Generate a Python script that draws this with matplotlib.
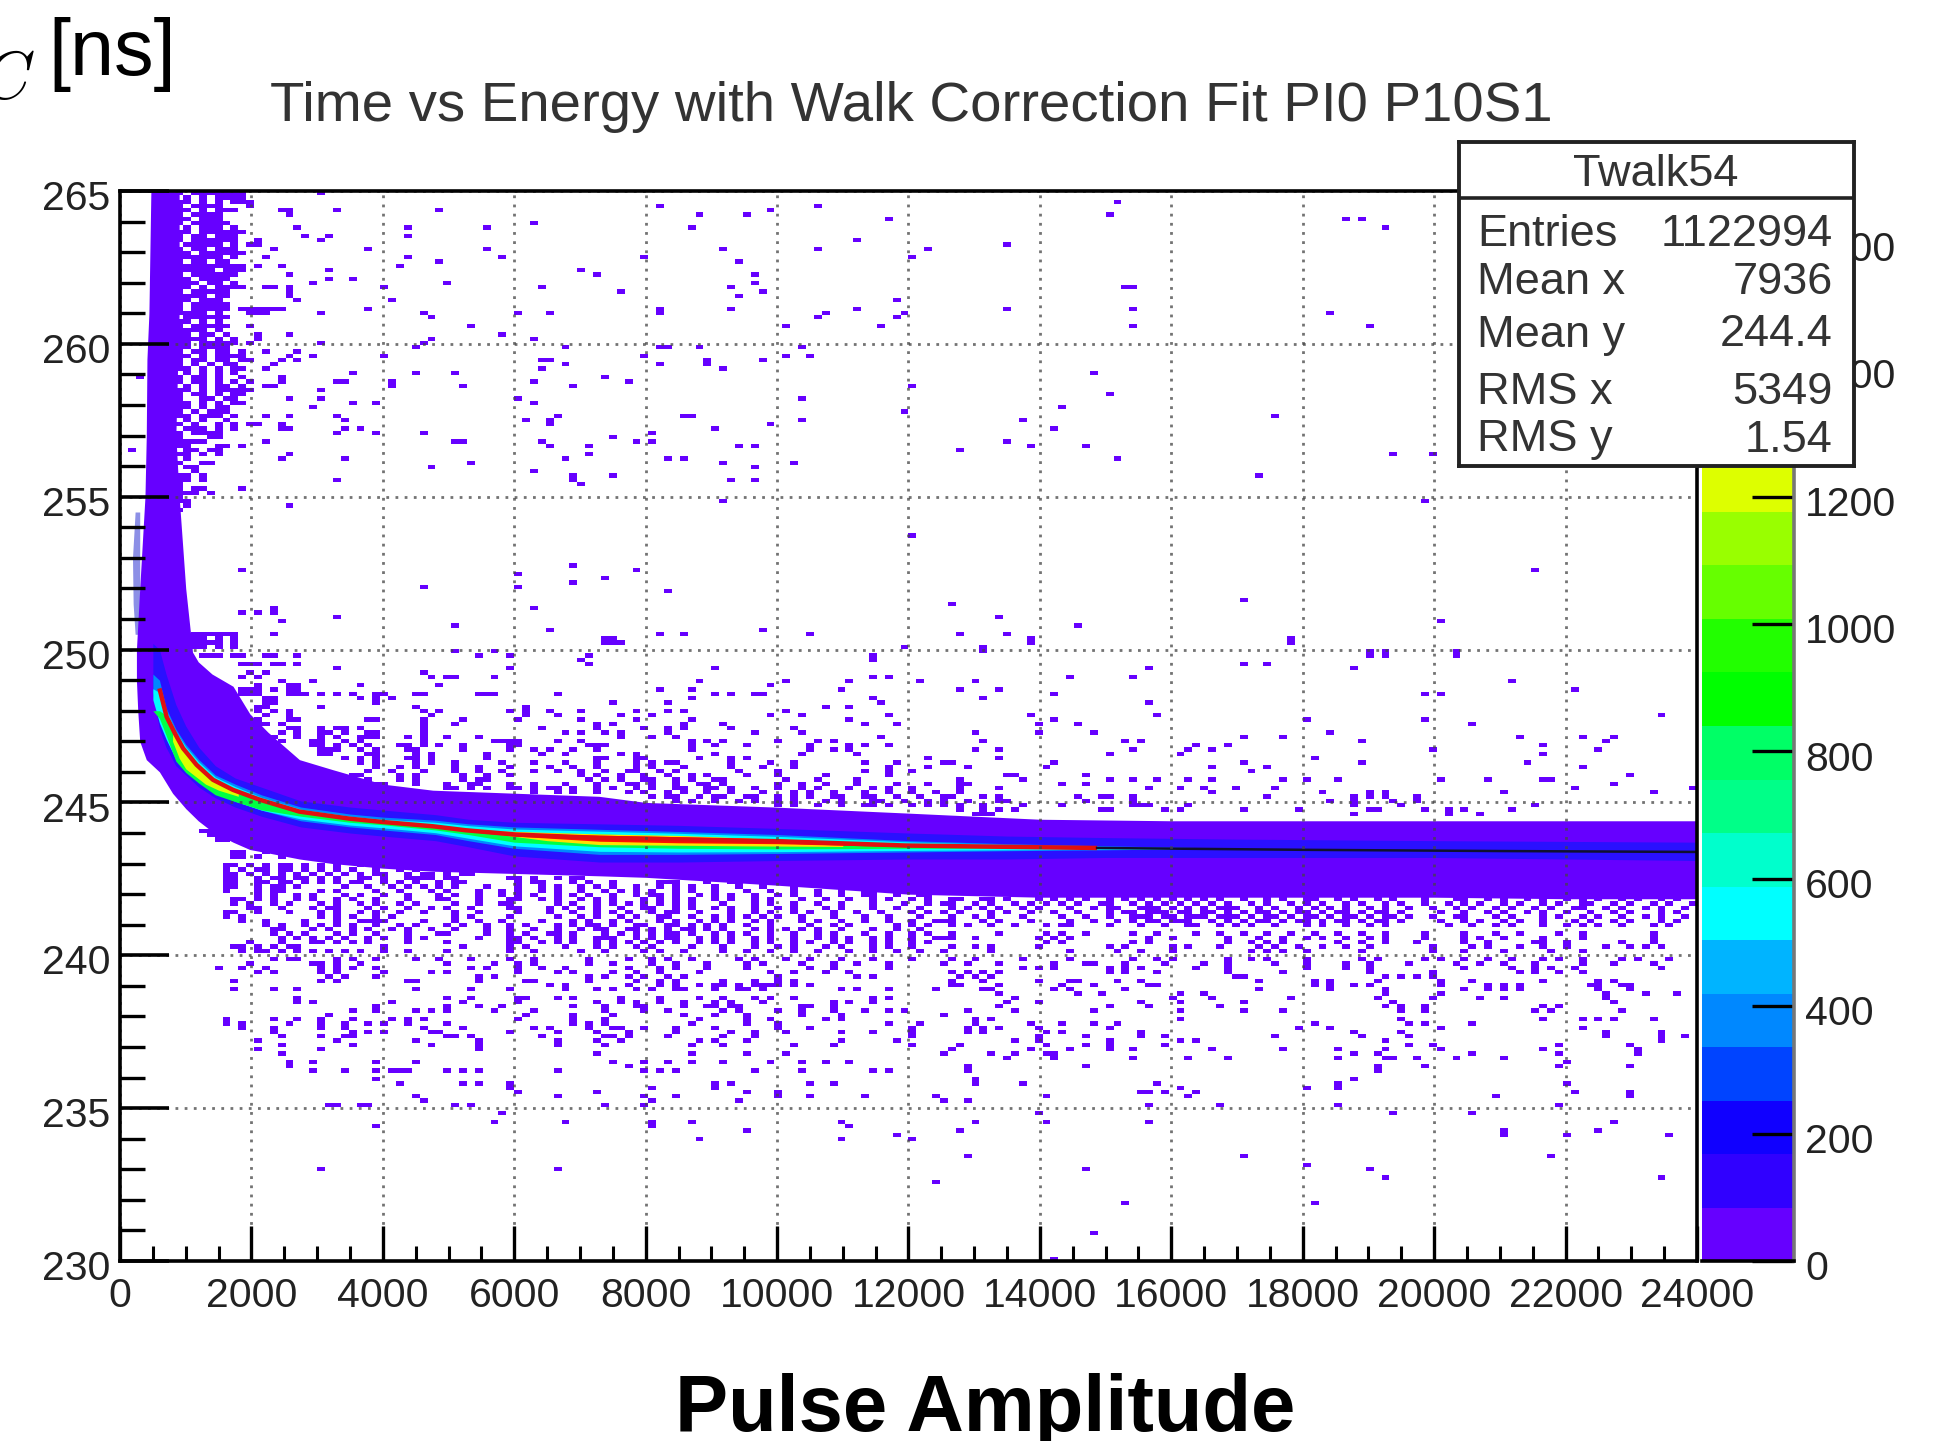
import numpy as np
import matplotlib
matplotlib.use("Agg")
import matplotlib.pyplot as plt
from matplotlib.colors import ListedColormap
from matplotlib.transforms import ScaledTranslation

W, H = 1937, 1441
plt.rcParams["font.family"] = ["Liberation Sans", "DejaVu Sans"]

# palette of the colour scale, bottom to top
palette = ["#6600ff", "#3000ff", "#1000ff", "#0044ff", "#0088ff", "#00b4ff", "#00ffff",
           "#00ffcc", "#00ff88", "#00ff66", "#00ff00", "#22ff00", "#66ff00", "#99ff00",
           "#ddff00", "#ffee00", "#ffbb00", "#ff8800", "#ff4400", "#ff0000"]
z_max = 1680

x_ticks = list(range(0, 24001, 2000))
y_ticks = [230, 235, 240, 245, 250, 255, 260, 265]
z_ticks = [0, 200, 400, 600, 800, 1000, 1200, 1400, 1600]

stat_names = ["Entries", "Mean x", "Mean y", "RMS x", "RMS y"]
stat_values = ["1122994", "7936", "244.4", "5349", "1.54"]

# solid purple body
body_x = [1000, 1190, 1400, 1720, 1975, 2250, 2730, 3240, 4000, 4760, 7290, 8000, 9950, 12000, 14000, 16000, 18000, 20000, 22000, 24000]
body_high = [250.3, 249.6, 249.2, 248.8, 247.9, 247.3, 246.4, 246.07, 245.6, 245.4, 245.2, 245.0, 244.85, 244.65, 244.45, 244.4, 244.4, 244.4, 244.4, 244.4]
body_low = [244.8, 244.4, 244.05, 243.7, 243.46, 243.35, 243.15, 243.0, 242.85, 242.75, 242.6, 242.55, 242.3, 242.0, 241.9, 241.9, 241.9, 241.9, 241.85, 241.85]

# near vertical column at small amplitude
col_y = [244.8, 245.3, 246.0, 246.4, 247.0, 248.0, 249.0, 250.0, 252.0, 255.0, 257.0, 259.5, 261.0, 265.0]
col_left = [1000, 800, 600, 400, 300, 270, 250, 250, 300, 380, 400, 410, 440, 470]
col_right = [1100, 1100, 1100, 1100, 1100, 1100, 1100, 1100, 1000, 900, 850, 880, 900, 900]
pale_y = [250.5, 251.5, 253.0, 254.5]
pale_left = [230, 200, 190, 230]
pale_right = [300, 300, 300, 300]

# coloured core of the band
core_x = [500, 600, 700, 850, 1000, 1200, 1450, 1750, 2150, 2750, 3500, 4000, 4800, 5300, 6000, 7300, 8500, 10000, 12000, 13500, 15000, 17000, 20000, 24000]
blue_top = [250.2, 250.0, 249.2, 248.2, 247.5, 246.8, 246.2, 245.8, 245.5, 245.05, 244.85, 244.75, 244.6, 244.45, 244.35, 244.3, 244.25, 244.15, 244.0, 243.9, 243.85, 243.8, 243.75, 243.7]
blue_bot = [248.5, 247.4, 246.8, 246.2, 245.9, 245.5, 245.15, 244.85, 244.55, 244.2, 244.0, 243.9, 243.75, 243.55, 243.25, 243.05, 243.05, 243.1, 243.15, 243.15, 243.2, 243.2, 243.2, 243.1]
light_top = [249.2, 249.0, 248.1, 247.4, 246.9, 246.4, 245.9, 245.6, 245.25, 244.85, 244.62, 244.52, 244.42, 244.3, 244.2, 244.12, 244.05, 243.95, 243.75, 243.65, 243.58, 243.5, 243.42, 243.38]
light_bot = [248.6, 247.8, 247.2, 246.5, 246.15, 245.75, 245.35, 245.05, 244.75, 244.4, 244.2, 244.1, 243.95, 243.75, 243.5, 243.3, 243.3, 243.33, 243.38, 243.42, 243.45, 243.5, 243.42, 243.38]
cyan_top = [248.72, 248.6, 248.02, 247.32, 246.82, 246.32, 245.83, 245.52, 245.17, 244.78, 244.55, 244.45, 244.35, 244.24, 244.13, 244.06, 243.99, 243.89, 243.71, 243.62, 243.55, 243.48, 243.42, 243.38]
cyan_bot = [248.36, 247.6, 247.08, 246.41, 246.07, 245.7, 245.31, 245.04, 244.75, 244.46, 244.26, 244.17, 244.01, 243.83, 243.58, 243.4, 243.38, 243.39, 243.43, 243.45, 243.47, 243.48, 243.42, 243.38]
green_top = [248.0, 248.0, 247.85, 247.2, 246.7, 246.2, 245.72, 245.4, 245.05, 244.68, 244.45, 244.35, 244.25, 244.15, 244.03, 243.97, 243.9, 243.8, 243.65, 243.57, 243.5, 243.45, 243.42, 243.38]
green_bot = [248.0, 247.75, 247.2, 246.35, 245.98, 245.63, 245.25, 245.03, 244.76, 244.55, 244.35, 244.27, 244.1, 243.95, 243.7, 243.55, 243.5, 243.48, 243.5, 243.5, 243.5, 243.45, 243.42, 243.38]

yellow_x = [800, 900, 1000, 1150, 1300, 1500, 1800]
yellow_top = [247.3, 247.0, 246.6, 246.3, 246.0, 245.65, 245.35]
yellow_bot = [247.0, 246.45, 246.1, 245.85, 245.6, 245.4, 245.2]
yellow2_x = [5600, 6500, 7300, 8500, 9500, 11000]
yellow2_top = [244.08, 244.02, 243.97, 243.92, 243.84, 243.68]
yellow2_bot = [244.0, 243.75, 243.62, 243.6, 243.58, 243.56]

red_x = [5300, 6000, 7300, 8500, 10000, 11000, 12000]
red_top = [244.13, 243.99, 243.93, 243.88, 243.8, 243.72, 243.63]
red_bot = [244.05, 243.9, 243.73, 243.68, 243.65, 243.6, 243.55]

fit_x = [600, 710, 835, 960, 1165, 1415, 1720, 2125, 2730, 3490, 4000, 4760, 5260, 6020, 7290, 10045, 11960, 14870]
fit_y = [248.73, 247.8, 247.26, 246.77, 246.23, 245.74, 245.41, 245.09, 244.7, 244.47, 244.36, 244.22, 244.09, 243.95, 243.84, 243.73, 243.59, 243.51]
fit_tail_x = [14870, 18000, 21000, 24000]
fit_tail_y = [243.51, 243.45, 243.41, 243.38]

# single filled cells: amplitude positions per row of time
top_left_rows = [
    (264.86, [850, 950, 1100, 1250, 1400, 1500, 1620, 1750, 1850]), (264.72, [1000, 1300, 1450, 1600, 1700, 1800, 1900]),
    (264.58, [860, 1050, 1300, 1500, 1700, 1850, 1950]), (264.44, [880, 950, 1150, 1250, 1350, 1500, 1950]),
    (264.3, [850, 1000, 1200, 1300, 1450, 1600, 1700]), (264.16, [900, 1100, 1300, 1400, 1500]),
    (264.02, [850, 900, 1000, 1200, 1300, 1350, 1550]), (263.88, [900, 1100, 1200, 1350, 1450, 1600]),
    (263.74, [1000, 1200, 1400, 1550, 1700]), (263.6, [850, 1000, 1200, 1350, 1500, 1650, 1750, 1850]),
    (263.46, [900, 1100, 1300, 1450, 1550, 1600, 1700]), (263.32, [850, 950, 1150, 1300, 1400, 1500, 1600, 1700]),
    (263.18, [1000, 1100, 1250, 1400, 1550, 1700]), (263.04, [900, 1100, 1300, 1450, 1600, 1750]),
    (262.9, [900, 1050, 1200, 1350, 1500, 1600, 1700, 1800, 1900]), (262.76, [850, 1000, 1100, 1300, 1400, 1550, 1700, 1750]),
    (262.62, [850, 950, 1100, 1250, 1450, 1600]), (262.48, [900, 1000, 1150, 1300, 1400, 1500, 1550, 1650, 1700, 1800]),
    (262.34, [850, 1000, 1150, 1250, 1400, 1600, 1750, 1900]), (262.2, [900, 1100, 1200, 1400, 1500, 1600, 1700]),
    (262.06, [850, 1000, 1250, 1350, 1450, 1600]), (261.92, [900, 1000, 1100, 1350, 1500, 1700]),
    (261.78, [850, 1000, 1200, 1300, 1500, 1600, 1700]), (261.64, [950, 1100, 1200, 1400, 1550, 1650]),
    (261.5, [850, 1050, 1150, 1300, 1450, 1550, 1650]), (261.36, [900, 1000, 1200, 1350, 1450, 1550]),
    (261.22, [850, 950, 1100, 1250, 1400, 1500, 1600]), (261.08, [800, 900, 1100, 1250, 1350, 1500, 1650]),
    (260.94, [850, 1000, 1150, 1300, 1450, 1550]), (260.8, [800, 1000, 1100, 1200, 1300, 1400, 1500, 1600]),
    (260.66, [900, 1000, 1200, 1300, 1500]), (260.52, [950, 1100, 1200, 1350, 1550, 1650]),
    (260.38, [850, 950, 1050, 1150, 1300, 1450, 1550]), (260.24, [800, 900, 1050, 1200, 1400, 1600]),
    (260.1, [850, 1000, 1150, 1300, 1450, 1550, 1700]), (259.96, [900, 1050, 1250, 1400, 1500, 1600, 1700]),
    (259.82, [850, 1000, 1200, 1350, 1500, 1600]), (259.68, [800, 950, 1100, 1300, 1500, 1650, 1800]),
    (259.54, [850, 1000, 1200, 1450, 1600, 1750]), (259.4, [900, 1100, 1300, 1500, 1650, 1800]),
    (259.26, [800, 950, 1150, 1400, 1650, 1750]), (259.12, [850, 1000, 1250, 1450, 1700, 1900]),
    (258.98, [800, 1000, 1200, 1500, 1750]), (258.84, [260, 850, 1100, 1300, 1550]),
    (258.7, [950, 1150, 1300, 1450, 1700]), (258.56, [800, 1000, 1250, 1500, 1650, 1800]),
    (258.42, [850, 1050, 1300, 1450, 1600, 1750, 1900]), (258.28, [900, 1100, 1300, 1550, 1700, 1800]),
    (258.14, [800, 950, 1250, 1400, 1600, 1750]), (258.0, [850, 1050, 1200, 1500, 1700]),
    (257.86, [900, 1000, 1200, 1300, 1450, 1650]), (257.72, [800, 950, 1150, 1400, 1500, 1600]),
    (257.58, [850, 1050, 1200, 1350, 1550, 1750]), (257.44, [800, 1000, 1250, 1600]),
    (257.3, [850, 950, 1100, 1450, 1700]), (257.16, [800, 1000, 1150, 1300, 1500, 1750]),
    (257.02, [850, 1100, 1250, 1400, 1550]), (256.88, [800, 950, 1350, 1500]),
    (256.74, [850, 1000, 1150, 1300]), (256.6, [800, 900, 1050, 1500, 1650]),
    (256.46, [178, 800, 1000, 1150, 1350, 1550]), (256.32, [850, 950, 1050, 1300, 1500]),
    (256.18, [1000]), (256.04, [850, 950, 1200, 1350]), (255.9, [1000, 1150]), (255.76, [800, 1100]),
    (255.62, [850, 1000, 1250]), (255.48, [900, 1000, 1200]), (255.34, [850, 950]), (255.2, [800, 900, 1100, 1300]),
    (255.06, [850, 1000, 1150, 1400]), (254.92, [800, 950]), (254.78, [850, 1050]), (254.64, [1000]), (254.5, [900]),
    (250.42, [1180, 1250, 1400, 1500, 1650, 1720]), (250.28, [1100, 1200, 1300, 1500, 1700, 1750]),
    (250.14, [1000, 1100, 1300, 1400, 1550, 1700, 1750]), (250.0, [1000, 1150, 1300, 1500, 1700]),
    (249.72, [1200, 1350, 1480, 1750, 1900, 2250, 2350, 2700]),
    (244.0, [1230, 1350, 1800]), (243.85, [1400, 1500]), (243.7, [1500, 1650]),
    (243.3, [1750, 1900, 2200, 2400, 3300]), (243.1, [1700, 1850, 2150, 2400, 3300, 3450]),
]

upper_rows = [
    (264.9, [3050]), (264.6, [15210]), (264.46, [1975, 8195, 10600]), (264.3, [2470, 2580, 3310, 4845, 9900, 9950]),
    (264.15, [2580, 8800, 9535, 15080]), (264.0, [11740, 18700, 18900]), (263.88, [6320]), (263.74, [2710, 4380, 5585, 8735, 19300]),
    (263.6, [1870]), (263.45, [2840, 3180, 4380]), (263.3, [2105, 3035, 11200]), (263.16, [1975, 2105, 13480]),
    (263.0, [2305, 3775, 5585, 9190, 10600, 12270]), (262.73, [2235, 4380, 5850, 8000, 12060]), (262.58, [4845, 9390]),
    (262.43, [1870, 2105, 2435, 4240]), (262.29, [3180, 6990]), (262.15, [2580, 7260, 9665]), (262.0, [3180, 3505]),
    (261.87, [2910, 4980, 9665]), (261.73, [1870, 2235, 2315, 2580, 4050, 6385, 9325, 15280, 15410]), (261.59, [2580, 7590, 9800]),
    (261.43, [2580, 9390]), (261.3, [2710, 4110, 11800]), (261.15, [1870, 1975, 2080, 2185, 2290, 2395, 2470, 3775, 8195, 9325, 11200, 13480, 15410]),
    (261.0, [1975, 2080, 2185, 2260, 3035, 4650, 6525, 8195]), (260.87, [6040, 10730, 11930, 18430]), (260.73, [4715, 10600, 11800]),
    (260.59, [5320, 10130, 11600]), (260.45, [1975, 15410, 19030]), (260.3, [2105, 2580, 5850]), (260.15, [2080, 4715, 6320]),
    (260.0, [2000, 3035, 4650]), (259.86, [4520, 6790, 8195, 8325, 8800, 10400]), (259.72, [1870, 2235, 2710]),
    (259.58, [1870, 2580, 2910, 4050, 8000, 10130, 10525]), (259.43, [1975, 2435, 2710, 6385, 6520, 8930, 9800]),
    (259.3, [2315, 6790, 8195, 8930]), (259.15, [2235, 6385, 9190]), (259.0, [3505, 4520, 5115, 14800]), (258.86, [1870, 2435, 7390]),
    (258.72, [1975, 2435, 3310, 3415, 4110, 6320, 7720]), (258.58, [2235, 2315, 4110, 5255, 6920, 12060]), (258.43, [1975, 3035]),
    (258.28, [15080]), (258.14, [2580, 3035, 6040, 10400]), (258.0, [1870, 3505, 3915, 6320]), (257.86, [2910, 14340]), (257.7, [11930]),
    (257.57, [2235, 2580, 3310, 6645, 8590, 8720, 17620]), (257.42, [3445, 6185, 6515, 10400, 13740]), (257.28, [1975, 2105, 2435, 6515, 9930, 9950]),
    (257.14, [2435, 2580, 3445, 3640, 9060, 14210]), (257.0, [3310, 3915, 4650, 8130]), (256.86, [7525]),
    (256.72, [2235, 5115, 5230, 6385, 7855, 8130, 13480]), (256.58, [1870, 6525, 7120, 9390, 9665, 13870, 14680]), (256.43, [12800]),
    (256.3, [2580, 7120, 19360, 19960]), (256.15, [2435, 3445, 6790, 8325, 8590, 15210]), (256.0, [5320, 9190, 10250]), (255.86, [4715, 9665]),
    (255.7, [6320]), (255.57, [6920, 7525, 17360]), (255.42, [3310, 6920, 9325, 9665]), (255.28, [6990]), (255.15, [1870]),
    (254.72, [9190, 19900]), (254.57, [2580]), (253.7, [12060]), (252.7, [6920]), (252.55, [1870, 7855, 21570]), (252.4, [6040]),
    (252.27, [7390]), (252.13, [6920]), (252.0, [4650, 6040]), (251.85, [8325]), (251.55, [17090]), (251.4, [12670]),
    (251.27, [2315, 6320]), (251.13, [1870, 2105, 2315]), (251.0, [3310, 13400]), (250.85, [2435, 20090]), (250.7, [5115, 14600]),
    (250.57, [6525, 9800]), (250.4, [2305, 8195, 8590, 10525, 12800, 13480]), (250.28, [7390, 7525, 13870, 17830]),
    (250.0, [11950, 13130]), (249.86, [5150, 5650, 19030, 19300, 20360]), (249.75, [7100, 11450]),
]

above_band_rows = [
    (250.2, [7330, 7450, 7560, 13870, 17800]), (249.93, [13100]), (249.8, [5450, 5900, 18990, 19280, 20330]), (249.66, [7000, 11450]),
    (249.5, [1900, 2000, 2100, 2300, 2450, 2700, 7130, 17070, 17470]), (249.37, [3300, 5900, 9040, 15660, 18720]), (249.23, [2030, 2250, 4650]),
    (249.08, [1900, 2050, 2100, 4700, 5000, 5100, 5700, 11450, 11700, 14470, 15400]), (248.93, [2450, 2900, 8800, 10100, 11100, 12200, 13000, 21130]),
    (248.8, [2100, 2600, 2700, 3650, 4870, 9930]), (248.64, [1850, 2000, 2150, 2350, 2600, 2700, 8170, 8700, 11000, 12820, 13390, 22130]),
    (248.5, [1900, 2000, 2150, 2550, 2700, 2850, 3100, 3250, 3500, 3900, 4050, 4450, 4600, 5400, 5550, 5700, 6650, 9050, 9300, 9650, 9800, 14190, 19850, 20070]),
    (248.36, [2200, 2300, 3600, 3950, 4100, 8700, 11450, 13120]), (248.2, [2250, 2300, 3900, 7500, 8300, 11600, 15660]), (248.08, [2100, 2250, 3050, 4500, 6150, 10700, 11150]),
    (247.93, [2150, 2300, 2550, 4650, 4850, 5900, 6150, 6500, 7000, 7850, 8300, 8550, 10100]),
    (247.8, [2250, 2550, 4700, 6150, 6650, 7600, 8100, 9950, 10400, 11700, 13870, 15800, 23480]),
    (247.65, [2100, 2550, 2700, 3750, 3900, 4650, 5200, 6050, 7000, 7850, 8700, 11100, 14190, 18070, 19870]),
    (247.5, [2050, 2250, 2400, 4600, 5100, 7250, 7550, 8600, 9200, 11300, 11800, 14000, 14600, 20530]),
    (247.37, [2600, 2750, 3050, 3250, 3450, 3650, 4650, 6400, 7250, 8000, 8350, 8600, 9350, 10250]),
    (247.23, [2450, 2700, 3000, 3200, 3450, 3750, 3900, 4650, 6800, 7000, 7350, 7600, 8350, 9650, 10400, 13000, 14000, 14790, 18400]),
    (247.09, [2350, 2700, 3000, 3300, 3650, 3800, 3900, 4350, 4650, 4950, 5450, 7600, 8100, 8450, 11600, 17070, 17680, 21270, 22270, 22730]),
    (246.95, [2400, 2900, 3100, 3450, 3700, 4650, 5650, 5800, 5900, 6050, 6650, 7000, 8700, 8900, 9200, 10000, 10650, 10850, 13120, 15270, 15530, 18870, 22620]),
    (246.8, [2900, 3050, 3300, 3550, 3800, 4250, 4400, 4650, 4800, 5250, 5900, 6050, 7100, 7250, 7400, 8700, 9050, 9500, 10550, 11100, 11300, 11750, 16400, 16870, 21680]),
    (246.66, [3000, 3150, 3350, 3600, 3900, 4400, 4550, 5250, 5900, 6300, 6500, 6900, 7200, 7300, 8750, 10500, 10900, 11100, 13000, 13390, 15400, 16260, 16580, 19920, 22470]),
    (246.52, [3000, 3200, 3800, 3900, 4550, 4750, 5600, 6400, 6800, 7600, 7850, 9100, 10400, 11200, 15060, 16140, 21680]),
    (246.38, [3400, 3600, 3900, 4400, 4500, 4750, 5600, 7300, 7400, 7900, 8000, 8800, 9300, 9500, 12350, 13390, 18200]),
    (246.24, [3700, 3900, 4450, 4700, 5100, 5800, 6300, 6800, 7200, 7900, 8100, 8300, 8500, 9300, 9900, 10300, 11300, 11800, 12500, 12700, 14190, 17070, 18870, 21420]),
    (246.1, [3900, 4300, 4500, 5050, 5500, 5900, 6500, 6850, 7200, 7800, 8150, 8550, 9250, 9800, 10200, 11650, 12250, 12880, 14060, 16600, 17470, 22270]),
    (245.95, [3800, 4100, 4650, 5100, 5400, 5800, 6350, 6600, 7000, 7400, 7700, 7900, 8200, 8450, 9400, 10000, 11300, 11700, 12100, 17200]),
    (245.8, [3500, 3700, 4200, 4500, 5200, 5600, 5900, 7000, 7300, 7600, 8000, 8350, 8650, 8900, 9500, 10050, 10700, 11700, 13460, 13600, 14660, 22940]),
    (245.65, [3800, 4300, 4550, 5200, 5450, 5600, 7100, 7400, 7600, 7950, 8150, 8500, 8700, 9000, 9200, 10100, 10600, 11250, 12820, 13730, 15080, 15400, 15800, 16260, 16600, 17680, 18070, 18520, 20070, 20810, 21680, 21750]),
    (245.5, [3900, 4000, 4500, 5000, 5300, 5500, 5900, 6300, 6800, 7300, 7700, 7900, 8100, 8500, 8800, 8950, 9150, 10000, 10400, 10750, 11200, 11800, 12250, 12820, 12900, 14330, 14660, 22740]),
    (245.35, [4950, 5100, 5300, 5550, 5900, 6100, 6250, 6500, 6600, 6900, 7250, 7450, 7800, 8100, 8400, 8600, 8900, 9100, 9300, 9600, 10000, 10400, 10600, 11050, 11400, 11700, 12000, 12820, 13390, 15660, 16140, 16460, 17000, 17600, 22130, 23940]),
    (245.22, [6300, 6600, 6900, 7250, 7700, 8000, 8300, 8600, 8900, 9300, 9800, 10200, 10500, 10900, 11300, 11700, 12000, 12400, 12820, 16600, 18270, 18990, 19280, 21070, 23330]),
    (245.07, [8100, 8300, 8500, 8800, 9000, 9200, 9500, 9700, 10000, 10300, 10500, 10800, 11000, 11300, 11500, 11800, 12200, 12500, 12700, 13100, 13390, 14600, 14900, 15050, 15400, 17470, 18740, 18990, 19280, 19740]),
    (244.93, [8500, 8700, 9000, 9100, 9400, 9700, 10000, 10200, 10700, 11000, 11400, 11600, 11900, 12300, 12500, 12900, 13390, 13480, 14650, 14700, 15400, 18380, 18740, 19350, 19740]),
    (244.79, [10050, 10300, 10600, 11000, 11300, 11500, 11700, 12000, 12300, 12500, 12800, 13100, 13730, 14330, 15360, 15510, 15650, 16280, 18740, 19480, 21540]),
    (244.65, [12800, 13100, 13400, 13600, 14930, 15000, 15100, 15870, 16140, 17070, 17930, 18990, 19130, 19880, 20170, 20470, 21130]),
    (244.51, [13000, 13150, 13300, 18740, 20170, 20670]),
]

below_left_rows = [
    (242.9, [1600, 1750, 2000, 2200, 2400, 2600, 2800, 3100, 3300, 3600, 3900, 4100, 4300]),
    (242.75, [1620, 1800, 2100, 2250, 2450, 2600, 2800, 3050, 3250, 3500, 3900, 4300, 4500]),
    (242.6, [1650, 1780, 2020, 2200, 2400, 2650, 2900, 3150, 3450, 3700, 3950, 4000, 4380, 4560, 4700, 5000, 5220, 5300]),
    (242.45, [1650, 1750, 2150, 2300, 2500, 2650, 2850, 3100, 3300, 3600, 3800, 4050, 4350, 4500, 4640, 4750, 4950, 5100, 5900, 6100, 6250, 6700, 6850, 7000]),
    (242.3, [1600, 1680, 2050, 2150, 2250, 2450, 2600, 2800, 3000, 3250, 3500, 3700, 4000, 4200, 4450, 4800, 5100, 5250, 6000, 6300, 6450, 6850, 7100, 7500, 8200, 8350, 8500, 8900, 9300, 9450, 10100, 10400]),
    (242.18, [1600, 1700, 2150, 2300, 2450, 2700, 3400, 3750, 4100, 4400, 4600, 4900, 5150, 5600, 6050, 6400, 6650, 7000, 7200, 7500, 7800, 8200, 8500, 8700, 9000, 9450, 9800, 10300, 10800, 11100, 11500, 11800]),
    (242.04, [1650, 2150, 2300, 2500, 3050, 3300, 3900, 4250, 4700, 5000, 5500, 5800, 6100, 6450, 6700, 7000, 7350, 7600, 7900, 8100, 8500, 8700, 9000, 9500, 9900, 10300, 10600, 11000, 11300, 11500, 11950]),
    (241.9, [2150, 2300, 2700, 2900, 3400, 3700, 4000, 4400, 4800, 5100, 5400, 5800, 6050, 6300, 6600, 6900, 7100, 7500, 7800, 8100, 8250, 8500, 8800, 9100, 9300, 9700, 10000, 10300, 10600, 11000, 11300, 11500, 11800, 12150, 12350]),
    (241.76, [1700, 1850, 2100, 2300, 2700, 2950, 3250, 3500, 3950, 4350, 4800, 5000, 5500, 5950, 6100, 6450, 6700, 7050, 7300, 7550, 7950, 8250, 8500, 8750, 9050, 9300, 9650, 9950, 10350, 10700, 11050, 11400, 11750, 12000, 12300]),
    (241.62, [1750, 2000, 2300, 2600, 3000, 3300, 3700, 3950, 4300, 4550, 5050, 5500, 5800, 5950, 6650, 6950, 7200, 7500, 7700, 8000, 8200, 8500, 8700, 9200, 9600, 9900, 10200, 10600, 11000, 11500, 11900, 12300]),
    (241.48, [2000, 2150, 2500, 2900, 3150, 3350, 3750, 4000, 4350, 4700, 5000, 5300, 5950, 6100, 6500, 6800, 7000, 7300, 7600, 7950, 8150, 8400, 8700, 9000, 9300, 9600, 10000, 10300, 10700, 11000, 11400, 11800, 12200]),
    (241.34, [1600, 1700, 2150, 2600, 3000, 3300, 3700, 3950, 4250, 4600, 5100, 5500, 6050, 6500, 6950, 7200, 7450, 7700, 8050, 8300, 8500, 8800, 9250, 9600, 9850, 10200, 10450, 10850, 11250, 11550, 12000, 12300]),
    (241.2, [1650, 1800, 3000, 3250, 3500, 3900, 4100, 5050, 5300, 5950, 6700, 7000, 7300, 7650, 7900, 8200, 8350, 8700, 9000, 9300, 9500, 9800, 10000, 10400, 10800, 11300, 11700, 12200]),
    (241.06, [1900, 2250, 2800, 3300, 3600, 3800, 3950, 4050, 4650, 5100, 5400, 5800, 6400, 6950, 7150, 7450, 7700, 8250, 8450, 8800, 9100, 9350, 9700, 9950, 10350, 10650, 11000, 11300, 11750, 12100, 12400]),
    (240.92, [2200, 2400, 2800, 3050, 3250, 3500, 3900, 4250, 4450, 4950, 5200, 5600, 5950, 6200, 6650, 6900, 7100, 7300, 7550, 7800, 8000, 8300, 8500, 8700, 8950, 9200, 9500, 9950, 10500, 10800, 11150, 11800, 12050, 12300]),
    (240.78, [2300, 2500, 2900, 3200, 3500, 3750, 4100, 4350, 4700, 5050, 5600, 5900, 6300, 6650, 7000, 7200, 7400, 7700, 7850, 8100, 8300, 8550, 8700, 8900, 9200, 9600, 9850, 10100, 10400, 10650, 11000, 11400, 11800, 12150]),
    (240.64, [2350, 2600, 2850, 3300, 3550, 3950, 4350, 4800, 5000, 5550, 5900, 6200, 6500, 6700, 6950, 7350, 7600, 7900, 8100, 8350, 8500, 8700, 9050, 9300, 9550, 9950, 10300, 10600, 10900, 11300, 11700, 12050, 12300]),
    (240.5, [2400, 2700, 2950, 3200, 3450, 3800, 4050, 4350, 4600, 5400, 5950, 6100, 6300, 6650, 6950, 7200, 7400, 7550, 7800, 8050, 8350, 8500, 8800, 9100, 9350, 9600, 9950, 10250, 10600, 10850, 11150, 11400, 11700, 12000, 12400]),
    (240.36, [1950, 2500, 2900, 3050, 3300, 3550, 3750, 4350, 5000, 5950, 6100, 6400, 6600, 6900, 7250, 7500, 7700, 7950, 8250, 8450, 8800, 9000, 9250, 9700, 9950, 10300, 10550, 10800, 11100, 11450, 11650, 12000, 12300]),
    (240.22, [1700, 1850, 2150, 2300, 2550, 2700, 4000, 5250, 5950, 6200, 6800, 7200, 7500, 7800, 8100, 8700, 9150, 9600, 10000, 10250, 10700, 10950, 11400, 11750, 12050]),
    (240.08, [1800, 2100, 2250, 2400, 2700, 2950, 3200, 3400, 3700, 4000, 4350, 5000, 5900, 6350, 7000, 7400, 7950, 8250, 8600, 9200, 9500, 9900, 10250, 10650, 11100, 11500, 11800, 12200]),
    (239.8, [2300, 2550, 2750, 3350, 3500, 3850, 4500, 4800, 5300, 5950, 6350, 7100, 7700, 8100, 8350, 8650, 9400, 9600, 10150, 10500, 11000, 11450, 12000]),
    (239.67, [2000, 2900, 3100, 3350, 3650, 5000, 5700, 6000, 6300, 7150, 7500, 8100, 8500, 8900, 9500, 9750, 10350, 10900, 11200, 11750]),
    (239.5, [1550, 1800, 2250, 3000, 3350, 3550, 3900, 5300, 5600, 6000, 6400, 6800, 7700, 8200, 8500, 8900, 9550, 10500, 10800, 11650]),
    (239.35, [2100, 2300, 3100, 3300, 4000, 4700, 5000, 6050, 6700, 6950, 7450, 7850, 8200, 8800, 9850, 10250, 10750, 11050]),
    (239.2, [3200, 3400, 3950, 5400, 5700, 7100, 7400, 7700, 8000, 8300, 8600, 10050, 11250, 11500]),
    (239.05, [1700, 3100, 3350, 4350, 4500, 5400, 6150, 6300, 7100, 7800, 8200, 8400, 9150, 9700, 10000, 10250]),
    (238.9, [6500, 6800, 7750, 8250, 8400, 8800, 9000, 9200, 9400, 9600, 9750, 9900, 10000, 10200, 10450]),
    (238.75, [1700, 2300, 2700, 4550, 5300, 5950, 6800, 7200, 7450, 7900, 8100, 8450, 8600, 9100, 9400, 9550, 9750, 10950, 11200, 11700, 12400]),
    (238.6, [2700, 5000, 5350, 6000, 6200, 6600, 6900, 7600, 8200, 8800, 9150, 9650, 9950, 10250, 11500, 11700]),
    (238.46, [2700, 2900, 4100, 5250, 6000, 7250, 7600, 7900, 8200, 8550, 9000, 9250, 9800, 10800, 11150, 11400]),
    (238.3, [3900, 5000, 5500, 5800, 6900, 7350, 7850, 8000, 8600, 8900, 9000, 9300, 9450, 10350, 10550, 10900]),
    (238.15, [3500, 3900, 4500, 4700, 5000, 5700, 6300, 7400, 7950, 8300, 9150, 9400, 10050, 10400, 10800, 11300, 11700, 11950]),
    (238.0, [3200, 6200, 6900, 7550, 8550, 9100, 9550, 10400, 11000, 12500]),
    (237.85, [1650, 2300, 2700, 3000, 3500, 4150, 4350, 4600, 6000, 6950, 7400, 8850, 9500, 9850, 10700, 11000]),
    (237.7, [1600, 1800, 2550, 3000, 3400, 3750, 4000, 4350, 4950, 6850, 7100, 7400, 8650, 9550, 10000, 11650, 12200]),
    (237.55, [1800, 2300, 3000, 3450, 4600, 5250, 6250, 6550, 7150, 7450, 7650, 8000, 8500, 9000, 10000, 10500, 12100]),
    (237.4, [2300, 3550, 3750, 4000, 4750, 4900, 5950, 6600, 7300, 7700, 8400, 9250, 9650, 10100, 11000, 11500, 12000]),
    (237.25, [2450, 3000, 3400, 3500, 4950, 5100, 5300, 6400, 7350, 7450, 7700, 8300, 9200, 9600, 12100]),
    (237.1, [2150, 3250, 4550, 5400, 6650, 7200, 7600, 8800, 9100, 9500, 11000, 11800]),
    (236.95, [2400, 3500, 4700, 5400, 6700, 7400, 8650, 9200, 10300, 10800, 12100]),
    (236.8, [2100, 3050, 5400]), (236.65, [2400, 7300, 8700, 9550, 10100]),
    (236.5, [2600, 2950, 3900, 4550, 7450, 7950, 8300, 8700, 9150, 9850, 10400, 10700, 11100]),
    (236.35, [2550, 7750]), (236.2, [2900, 3450, 4100, 4350, 5000, 7950, 8200]),
    (236.1, [3400, 3950, 4200, 5200, 5400, 6650, 8400, 9600, 10400, 11500, 11650]),
    (235.95, [3850]), (235.8, [4200, 5200, 5400, 5900, 9100, 9300, 10500, 10900]), (235.65, [5950, 8150, 9000]),
    (235.5, [6050, 7300, 9550, 10000]), (235.35, [4450, 6650, 8000, 8450, 10000, 10500, 11300, 12400]), (235.2, [4600, 8150, 9400, 12500]),
    (235.1, [3150, 3350, 5100, 7350, 8000]), (235.0, [3300, 3600, 3800, 5300, 8000]), (234.74, [5850]),
    (234.45, [5700, 6800, 8150, 8710, 10960]), (234.3, [3900, 8150, 11150]), (234.15, [9570]), (234.03, [11800]),
    (233.87, [8800, 11000, 12000]), (233.0, [3000]), (232.88, [6650]),
]

below_right_rows = [
    (241.76, [12600, 12800, 13100, 13300, 13500, 14000, 14200, 14400, 14700, 15000, 15300, 15500, 15800, 16000, 16300, 16500, 16700, 17100, 17400, 17700, 18000, 18200, 18500, 18800, 19100, 19400, 19800, 20300, 20500, 20800, 21100, 21400, 21700, 22000, 22300, 22500, 22800, 23100, 23400, 23700]),
    (241.62, [12500, 12700, 13000, 13200, 13600, 13900, 14100, 14300, 14600, 14900, 15100, 15400, 15600, 15900, 16100, 16400, 16600, 16900, 17200, 17500, 17800, 18100, 18300, 18600, 18900, 19200, 19500, 19900, 20200, 20400, 20700, 21000, 21300, 21600, 21900, 22200, 22400, 22700, 23000, 23300, 23600, 23900]),
    (241.48, [12600, 12900, 13100, 13400, 13700, 14000, 14500, 14800, 15000, 15200, 15500, 15700, 15800, 16000, 16200, 16300, 16500, 16700, 16800, 17000, 17300, 17600, 17900, 18200, 18400, 18700, 19000, 19300, 19600, 20000, 20300, 20600, 20900, 21200, 21500, 21800, 22100, 22300, 22600, 22900, 23200, 23500, 23800]),
    (241.34, [12500, 12800, 13200, 13500, 13800, 14200, 14600, 15000, 15300, 15400, 15600, 15800, 15900, 16100, 16300, 16500, 16600, 16800, 16900, 17100, 17300, 17500, 17700, 17900, 18100, 18300, 18500, 18700, 18900, 19100, 19300, 19500, 20100, 20400, 20800, 21100, 21400, 21700, 22000, 22400, 22700, 23000, 23400, 23700]),
    (241.2, [12600, 13000, 13300, 13700, 14300, 14700, 15100, 15400, 15500, 15700, 15900, 16000, 16200, 16400, 16500, 16700, 16800, 17000, 17200, 17400, 17600, 17800, 18000, 18200, 18400, 18600, 18800, 19000, 19200, 19400, 19600, 20000, 20300, 20500, 20900, 21200, 21600, 21900, 22200, 22500, 22800, 23200, 23500, 23800]),
    (241.06, [12500, 12700, 13100, 13400, 13900, 14400, 14800, 15200, 15400, 15600, 15800, 16000, 16100, 16300, 16600, 16800, 16900, 17100, 17300, 17500, 17700, 17900, 18100, 18300, 18500, 18700, 18900, 19100, 19300, 19500, 20100, 20400, 20700, 21000, 21300, 21700, 22100, 22400, 22700, 23000, 23400, 23700]),
    (240.92, [12600, 12900, 13200, 13600, 14100, 14300, 14500, 15100, 15500, 15900, 16200, 16400, 16700, 17000, 17200, 17600, 18000, 18300, 18700, 19000, 19300, 20200, 20600, 20900, 21200, 21600, 22000, 22200, 22500, 22900, 23300, 23600]),
    (240.7, [12700, 13400, 14050, 14300, 14700, 15450, 15750, 16400, 16700, 17100, 17500, 17800, 18200, 18500, 18900, 19300, 19900, 20400, 20900, 21300, 21900, 22300, 23300]),
    (240.55, [12500, 12700, 13000, 14000, 14200, 14450, 15600, 16000, 16800, 17300, 17700, 18000, 18300, 18700, 19000, 19300, 19800, 20400, 20700, 21000, 21700, 22200, 23350]),
    (240.4, [14100, 14300, 15400, 15700, 16800, 17200, 17400, 17700, 18500, 18900, 19300, 19700, 20500, 20800, 21500, 21700, 22000, 22900, 23300]),
    (240.25, [12700, 13000, 13300, 13950, 15000, 15300, 16050, 16300, 16700, 17300, 17600, 17900, 18300, 18600, 19000, 20000, 20600, 20850, 21300, 21600, 22000, 22600, 23000, 23200, 23500]),
    (240.1, [12500, 13200, 14500, 15200, 15500, 16000, 17200, 17400, 17700, 18100, 18900, 20000, 20500, 21000, 21800, 22300]),
    (239.85, [12600, 13000, 13700, 14400, 15400, 15800, 16000, 16900, 17200, 17400, 18000, 18900, 19100, 19800, 20150, 20400, 20800, 21200, 21600, 21900, 22300, 22800, 23100, 23600]),
    (239.7, [12500, 12900, 13400, 14200, 14650, 14800, 15300, 15850, 16500, 16900, 17600, 18050, 18600, 19000, 19600, 20300, 20700, 21100, 21500, 22200, 22700, 23300]),
    (239.55, [13700, 14000, 14200, 15000, 15300, 15500, 16400, 16900, 18050, 18700, 19000, 20500, 21200, 21500, 21750, 22100, 23500]),
    (239.4, [12700, 12900, 13100, 13400, 15000, 15100, 15350, 15800, 16800, 17700, 19000, 20000, 21300, 21550, 21950, 22300]),
    (239.25, [12800, 13000, 13200, 17000, 17100, 19300, 19500, 19700, 20000]),
    (239.1, [12600, 13100, 14000, 14400, 14600, 15200, 15500, 17300, 18200, 18450, 19100, 20150, 20600, 21600, 22500, 22700]),
    (238.95, [12600, 12800, 13400, 14300, 14850, 15700, 15800, 18200, 18400, 18800, 19000, 20100, 20800, 21050, 21300, 22400, 22500, 22800, 23000]),
    (238.8, [13100, 13300, 14200, 14500, 15300, 17300, 18400, 19300, 20500, 20800, 21100, 21300, 22500, 23000]),
    (238.65, [13400, 14600, 14950, 16100, 16450, 19300, 20100, 22600, 23200, 23750]),
    (238.5, [13600, 16000, 16600, 17800, 19100, 20000, 20700, 21000, 22600]), (238.35, [13500, 14000, 15500, 16100, 17100, 19400, 22700]),
    (238.2, [13400, 15000, 15600, 16750, 19200, 19500, 19800, 21600, 21900]), (238.05, [12900, 13600, 14800, 16100, 17100, 17700, 19500, 19800, 21500, 21750, 22900]),
    (237.9, [13000, 13200, 16100, 19500, 21600, 22250, 22500, 22700, 23300]), (237.75, [13000, 13800, 14300, 14800, 15200, 18200, 19600, 19800, 20600]),
    (237.6, [12900, 13100, 13400, 14000, 15100, 17900, 18400, 20100, 22200]), (237.45, [12900, 13100, 14100, 14350, 15500, 18800, 19500, 22600, 23500]),
    (237.3, [14000, 14750, 15500, 15950, 17600, 18950, 19600, 22600, 23500, 23800]), (237.15, [13600, 14000, 15000, 16100, 16400, 19300, 23400]),
    (237.0, [12800, 14150, 14700, 15000, 15900, 19600, 20000, 21900, 23000]), (236.85, [12700, 13850, 14400, 15100, 15400, 16600, 17700, 18500, 19300, 20100, 21600, 23050]),
    (236.7, [12550, 13200, 13600, 14100, 14200, 18800, 19100, 20600, 21900, 23150]), (236.55, [13500, 14250, 15400, 16200, 16800, 18500, 19200, 19400, 19700, 20300, 21000]),
    (236.4, [22000]), (236.25, [12900, 14700, 19100, 19900, 21900, 23000]), (236.1, [12900, 19100]), (235.95, [13000, 18800]),
    (235.8, [13000, 13700, 15800, 18500, 22000]), (235.65, [16100, 18100, 18500]), (235.5, [15500, 15700, 15900, 16400, 22100, 22950, 23000]),
    (235.35, [14100, 16300, 20900, 23000]), (235.2, [12900]), (235.1, [16700, 18500]), (235.0, [15700, 21900]), (234.8, [20600]),
    (234.7, [14000, 19350]), (234.45, [13000, 14100, 15700, 22700]), (234.2, [12800, 21000, 22500]), (234.0, [21100, 22000, 23600]),
    (233.35, [12950, 17100, 21800]), (233.1, [18000]), (233.0, [14700, 19000]), (232.65, [19300, 23400]), (232.5, [12400]),
    (231.8, [15260, 18210]), (230.9, [14800]), (230.05, [14200]),
]

fig = plt.figure(figsize=(W / 100, H / 100), dpi=100, facecolor="white")
ax = fig.add_axes([120 / W, 1 - 1261 / H, (1697 - 120) / W, (1261 - 191) / H])

# every hand-read cell goes through the same 2D histogram, rows sit mid bin
all_rows = top_left_rows + upper_rows + above_band_rows + below_left_rows + below_right_rows
cell_x = [x for y, xs in all_rows for x in xs]
cell_y = [y + 0.07 for y, xs in all_rows for x in xs]
counts, xedges, yedges = np.histogram2d(cell_x, cell_y, bins=[200, 250], range=[[0, 24000], [230, 265]])
cmap = ListedColormap(palette)
ax.pcolormesh(xedges, yedges, np.ma.masked_equal(counts.T, 0), cmap=cmap, vmin=0, vmax=z_max, zorder=1.0)

ax.fill_betweenx(pale_y, pale_left, pale_right, color="#8c8fe6", lw=0, zorder=1.1)
ax.fill_betweenx(col_y, col_left, col_right, color=palette[0], lw=0, zorder=1.2)
ax.fill_between(body_x, body_low, body_high, color=palette[0], lw=0, zorder=1.2)

ax.fill_between(core_x, blue_bot, blue_top, color="#2a10ff", lw=0, zorder=1.3)
ax.fill_between(core_x, light_bot, light_top, color="#0088ff", lw=0, zorder=1.4)
ax.fill_between(core_x, cyan_bot, cyan_top, color="#00ffff", lw=0, zorder=1.5)
ax.fill_between(core_x, green_bot, green_top, color="#00ff44", lw=0, zorder=1.6)
ax.fill_between(yellow_x, yellow_bot, yellow_top, color="#ddff00", lw=0, zorder=1.7)
ax.fill_between(yellow2_x, yellow2_bot, yellow2_top, color="#ffe000", lw=0, zorder=1.7)
ax.fill_between(red_x, red_bot, red_top, color="#ff1000", lw=0, zorder=1.8)
ax.plot(fit_x, fit_y, color="#e01010", lw=3.2, zorder=1.9, solid_capstyle="butt")
ax.plot(fit_tail_x, fit_tail_y, color="#101030", lw=1.8, zorder=1.9)

ax.set_xlim(0, 24000)
ax.set_ylim(230, 265)
ax.set_xticks(x_ticks)
ax.set_yticks(y_ticks)
ax.set_xticks(np.arange(0, 24001, 500), minor=True)
ax.set_yticks(np.arange(230, 266, 1), minor=True)
ax.tick_params(axis="x", which="major", direction="in", length=25, width=2.4, labelsize=29.5, pad=11.5, labelcolor="#222222")
ax.tick_params(axis="x", which="minor", direction="in", length=11, width=2.2)
ax.tick_params(axis="y", which="major", direction="in", length=35, width=2.6, labelsize=29.5, pad=7, labelcolor="#222222")
ax.tick_params(axis="y", which="minor", direction="in", length=18, width=2.4)
ax.set_axisbelow(False)
ax.grid(True, which="major", color="#444444", lw=2.0, ls=(0, (1, 2.3)), alpha=0.75)
for s in ax.spines.values():
    s.set_linewidth(2.6)
    s.set_zorder(3)

# colour scale
cax = fig.add_axes([1702 / W, 1 - 1261 / H, (1794 - 1702) / W, (1261 - 191) / H])
z_edges = np.linspace(0, z_max, len(palette) + 1)
cax.pcolormesh([0, 1], z_edges, np.arange(len(palette)).reshape(-1, 1), cmap=cmap, vmin=-0.5, vmax=len(palette) - 0.5)
cax.set_xlim(0, 1)
cax.set_ylim(0, z_max)
cax.set_xticks([])
cax.yaxis.tick_right()
cax.set_yticks(z_ticks)
cax.tick_params(axis="y", direction="in", length=30, width=2.4, labelsize=29.5, pad=8, labelcolor="#222222")
for name, s in cax.spines.items():
    s.set_visible(name in ("right", "bottom"))
    s.set_color("#777777" if name == "right" else "black")
    s.set_linewidth(2.6)

# the numbers sit a little under their ticks in the reference
down = ScaledTranslation(0, -3 / 72, fig.dpi_scale_trans)
for label in ax.get_yticklabels() + cax.get_yticklabels():
    label.set_transform(label.get_transform() + down)

# stats box on top of everything
box = fig.add_axes([1459 / W, 1 - 466 / H, (1854 - 1459) / W, (466 - 142) / H], zorder=5)
box.set_xticks([])
box.set_yticks([])
box.set_xlim(0, 395)
box.set_ylim(466, 142)
for s in box.spines.values():
    s.set_linewidth(2.8)
    s.set_color("#222222")
box.axhline(198, color="#222222", lw=2.6)
box.text(197, 175, "Twalk54", ha="center", va="center", fontsize=32.5, color="#333333")
row_px = [234, 283, 335, 392, 440]
for name, val, py in zip(stat_names, stat_values, row_px):
    box.text(18, py, name, ha="left", va="center", fontsize=32.5, color="#333333")
    box.text(374, py, val, ha="right", va="center", fontsize=32.5, color="#333333")

fig.text(911 / W, 1 - 107 / H, "Time vs Energy with Walk Correction Fit PI0 P10S1",
         ha="center", va="center", fontsize=40.6, color="#333333")
fig.text(48 / W, 1 - 55 / H, "[ns]", ha="left", va="center", fontsize=57, color="black")
fig.text(-18 / W, 1 - 82 / H, r"$C$", ha="left", va="center", fontsize=48, color="black", math_fontfamily="cm")
fig.text(985 / W, 1 - 1411 / H, "Pulse Amplitude", ha="center", va="center", fontsize=57.3, fontweight="bold", color="black")

fig.savefig("out.png", dpi=100)
